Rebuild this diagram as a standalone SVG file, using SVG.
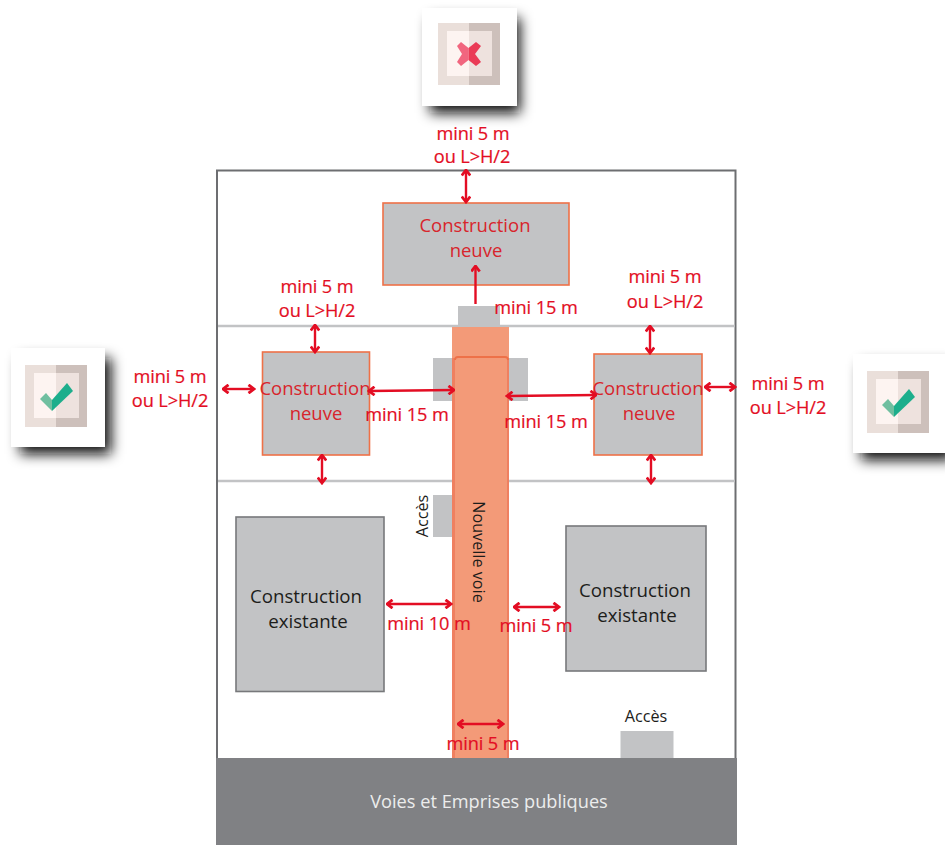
<svg xmlns="http://www.w3.org/2000/svg" width="945" height="845" viewBox="0 0 945 845">
<defs>
<filter id="sh" x="-40%" y="-40%" width="180%" height="180%"><feGaussianBlur stdDeviation="6.500"/></filter>
<filter id="soft" x="-5%" y="-5%" width="110%" height="110%"><feGaussianBlur stdDeviation="0.7"/></filter>
<marker id="ah" viewBox="0 0 10 10" refX="8.5" refY="5" markerWidth="10" markerHeight="10" markerUnits="userSpaceOnUse" orient="auto-start-reverse"><path d="M3 0.800L8.500 5L3 9.200" fill="none" stroke="#e30d23" stroke-width="2.800"/></marker>
<g id="frame">
<rect x="0" y="0" width="62" height="62" fill="#eadfda"/>
<rect x="31" y="0" width="31" height="62" fill="#cdc0bb"/>
<rect x="9" y="8" width="45" height="45" fill="#fdf4f1"/>
<rect x="31" y="8" width="23" height="45" fill="#eee2de"/>
</g>
<g id="check">
<use href="#frame"/>
<path d="M15 34L21 28L27 35L27 46Z" fill="#6fbfa0"/>
<path d="M27 35L42 18L48 26L27 46Z" fill="#1fae8c"/>
</g>
</defs>
<style>
text{font-family:"Open Sans","Noto Sans","Liberation Sans",sans-serif;text-anchor:middle}
.r{fill:#e30d23;font-size:18.200px;stroke:#e30d23;stroke-width:.2px;letter-spacing:-.1px}
.n{fill:#d8252c;font-size:18.500px}
.k{fill:#1d1d1b;font-size:18.700px}
.s{font-size:16.200px;fill:#1d1d1b}
.b{fill:#c2c3c5}
.new{fill:#c2c3c5;stroke:#ee7148;stroke-width:1.6}
.old{fill:#c2c3c5;stroke:#77787b;stroke-width:1.6}
.a{fill:none;stroke:#e30d23;stroke-width:2.4;marker-start:url(#ah);marker-end:url(#ah)}
.card{fill:#fff}
.shadow{fill:#111;filter:url(#sh)}
</style>
<rect width="945" height="845" fill="#fff"/>
<g id="parcel">
<rect x="217" y="170.500" width="518.500" height="620" fill="#fff" stroke="#6d6e71" stroke-width="2"/>
<path d="M218 326H735M218 481H735" stroke="#c2c3c5" stroke-width="2.500" fill="none"/>
</g>
<g id="voies"><rect x="216" y="758" width="521" height="87" fill="#808184"/><text x="489" y="808" font-size="18.200" fill="#eceded">Voies et Emprises publiques</text></g>
<g id="acces">
<rect class="b" x="458" y="306" width="42" height="21"/>
<rect class="b" x="433" y="358" width="22" height="43"/>
<rect class="b" x="507" y="358" width="21" height="43"/>
<rect class="b" x="433" y="495" width="20" height="42"/>
<rect class="b" x="620.500" y="731" width="53" height="27"/>
<text class="s" transform="translate(428,516) rotate(-90)">Accès</text>
<text class="s" x="646" y="722">Accès</text>
</g>
<g id="nouvelle-voie">
<rect x="452" y="327" width="57" height="431" fill="#f39a78"/>
<path d="M452 358H455V758H452ZM507 358H509V758H507Z" fill="#ef8060"/>
<path d="M455 360Q455 357 458 357H505Q508 357 508 360" fill="none" stroke="#ee7148" stroke-width="1.800"/>
<text class="s" transform="translate(473,552) rotate(90)" fill="#1d1d1b">Nouvelle voie</text>
</g>
<g id="n-top"><rect class="new" x="383" y="203" width="186" height="82"/><text class="n" x="475" y="232">Construction</text><text class="n" x="476" y="257">neuve</text></g>
<g id="n-left"><rect class="new" x="262.500" y="352" width="107" height="103"/><text class="n" x="315" y="395">Construction</text><text class="n" x="316" y="420">neuve</text></g>
<g id="n-right"><rect class="new" x="594" y="354" width="108" height="101"/><text class="n" x="648" y="395">Construction</text><text class="n" x="649" y="420">neuve</text></g>
<g id="e-left"><rect class="old" x="236" y="517" width="148" height="174.500"/><text class="k" x="306" y="603">Construction</text><text class="k" x="308" y="628">existante</text></g>
<g id="e-right"><rect class="old" x="566" y="526" width="140" height="145"/><text class="k" x="635" y="597">Construction</text><text class="k" x="637" y="622">existante</text></g>
<g id="connectors">
<path class="a" d="M466 170V202"/>
<path d="M475.500 304V266" fill="none" stroke="#e30d23" stroke-width="2.400" marker-end="url(#ah)"/>
<path class="a" d="M315 325V352"/>
<path class="a" d="M650 326V353"/>
<path class="a" d="M322 455V483"/>
<path class="a" d="M651 455V483"/>
<path class="a" d="M223 389H254"/>
<path class="a" d="M705 387H735"/>
<path class="a" d="M369 391L454 390"/>
<path class="a" d="M507 396L596 395"/>
<path class="a" d="M387 604L451 604"/>
<path class="a" d="M514 607H559"/>
<path class="a" d="M458 724H503"/>
</g>
<g id="labels">
<text class="r" x="473" y="140">mini 5 m</text><text class="r" x="472" y="163">ou L&gt;H/2</text>
<text class="r" x="317" y="293">mini 5 m</text><text class="r" x="317" y="317">ou L&gt;H/2</text>
<text class="r" x="665" y="283">mini 5 m</text><text class="r" x="665" y="308">ou L&gt;H/2</text>
<text class="r" x="170" y="383">mini 5 m</text><text class="r" x="170" y="407">ou L&gt;H/2</text>
<text class="r" x="788" y="390">mini 5 m</text><text class="r" x="788" y="414">ou L&gt;H/2</text>
<text class="r" x="536" y="314">mini 15 m</text>
<text class="r" x="407" y="421">mini 15 m</text>
<text class="r" x="546" y="428">mini 15 m</text>
<text class="r" x="429" y="630">mini 10 m</text>
<text class="r" x="536" y="632">mini 5 m</text>
<text class="r" x="483" y="750">mini 5 m</text>
</g>
<g id="icon-top">
<rect class="shadow" x="430" y="18" width="90" height="95"/>
<rect class="card" x="422" y="8" width="95" height="98"/>
<g filter="url(#soft)">
<use href="#frame" x="438" y="23"/>
<path d="M457 46L461 42L468.500 48V60L461 66L457 62L462 54Z" fill="#f1667f"/>
<path d="M468.500 48L476 42L481 46L475 54L481 62L476 66L468.500 60Z" fill="#ea3a56"/>
</g>
</g>
<g id="icon-left">
<rect class="shadow" x="20" y="358" width="91" height="96"/>
<rect class="card" x="11" y="348" width="94" height="99"/>
<use href="#check" x="25" y="365" filter="url(#soft)"/>
</g>
<g id="icon-right">
<rect class="shadow" x="861" y="364" width="92" height="96"/>
<rect class="card" x="853" y="354" width="92" height="99"/>
<use href="#check" x="867" y="371" filter="url(#soft)"/>
</g>
</svg>
